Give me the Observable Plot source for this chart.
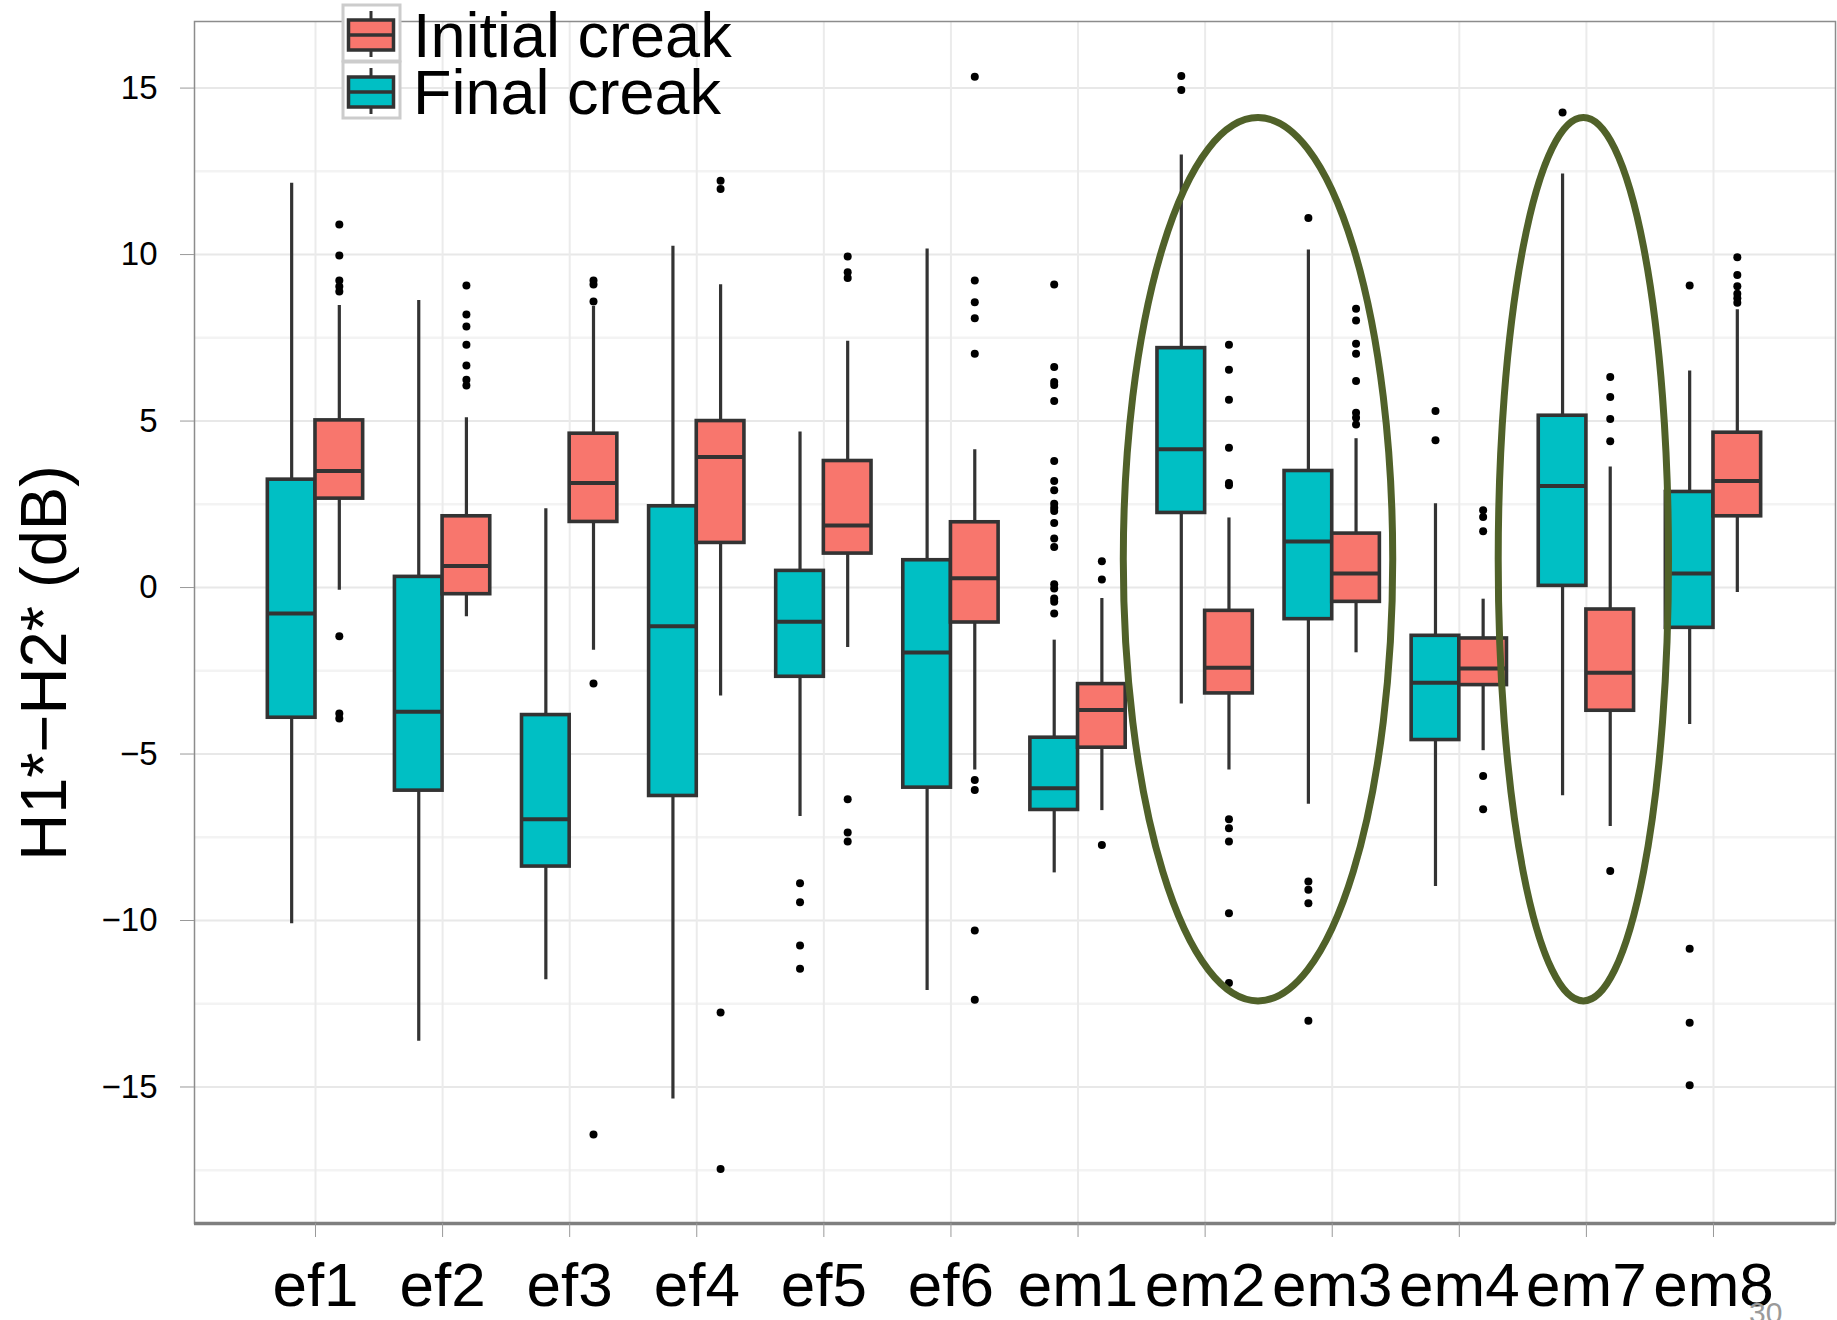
<!DOCTYPE html>
<html>
<head>
<meta charset="utf-8">
<script src="https://cdn.jsdelivr.net/npm/d3@7"></script>
<script src="https://cdn.jsdelivr.net/npm/@observablehq/plot@0.6"></script>
<style>
  html, body { margin: 0; padding: 0; background: #fff; overflow: hidden; }
  #chart svg { display: block; }
</style>
</head>
<body>
<div id="chart"></div>
<script>
// ---------- data ----------
const categories = ["ef1","ef2","ef3","ef4","ef5","ef6","em1","em2","em3","em4","em7","em8"];
const seriesNames = ["Initial creak", "Final creak"];
const seriesColors = ["#F8766D", "#00BFC4"];
const yTicks = [-15, -10, -5, 0, 5, 10, 15];
const yMinorTicks = [-17.5, -12.5, -7.5, -2.5, 2.5, 7.5, 12.5];

// Final creak (teal)
const finalLow  = [-10.1, -13.63, -11.78, -15.36, -6.88, -12.1, -8.57, -3.5, -6.51, -8.98, -6.25, -4.11];
const finalQ1   = [-3.91, -6.1, -8.38, -6.26, -2.68, -6.01, -6.68, 2.24, -0.95, -4.58, 0.05, -1.21];
const finalMed  = [-0.78, -3.73, -6.96, -1.16, -1.03, -1.95, -6.03, 4.15, 1.38, -2.86, 3.05, 0.42];
const finalQ3   = [3.24, 0.32, -3.83, 2.44, 0.5, 0.82, -4.51, 7.19, 3.5, -1.45, 5.16, 2.87];
const finalHigh = [12.14, 8.62, 2.37, 10.25, 4.67, 10.17, -1.58, 12.99, 10.14, 2.52, 12.42, 6.5];
const finalOut = [
  [], [], [], [],
  [-8.88, -9.45, -10.75, -11.45],
  [],
  [9.1, 6.62, 6.17, 6.08, 5.6, 3.8, 3.2, 2.92, 2.52, 2.4, 2.3, 1.94, 1.47, 1.22, 0.1, -0.03, -0.33, -0.43, -0.78],
  [15.36, 14.94],
  [11.1, -8.83, -9.08, -9.48, -13.01],
  [5.3, 4.42],
  [14.27],
  [9.07, -10.85, -13.07, -14.95]
];

// Initial creak (red)
const initLow  = [-0.08, -0.88, -1.88, -3.26, -1.8, -5.48, -6.7, -5.48, -1.96, -4.9, -7.18, -0.15];
const initQ1   = [2.67, -0.2, 1.97, 1.34, 1.02, -1.05, -4.81, -3.18, -0.43, -2.93, -3.7, 2.14];
const initMed  = [3.5, 0.65, 3.14, 3.92, 1.86, 0.28, -3.68, -2.41, 0.42, -2.43, -2.56, 3.2];
const initQ3   = [5.02, 2.14, 4.62, 5.0, 3.8, 1.96, -2.9, -0.7, 1.62, -1.53, -0.66, 4.65];
const initHigh = [8.47, 5.1, 8.44, 9.09, 7.4, 4.14, -0.33, 2.09, 4.47, -0.35, 3.62, 8.34];
const initOut = [
  [10.9, 9.97, 9.22, 9.04, 8.89, -1.46, -3.78, -3.93],
  [9.07, 8.2, 7.84, 7.29, 6.67, 6.24, 6.07],
  [9.22, 9.1, 8.59, -2.88, -16.43],
  [12.22, 11.97, -12.76, -17.46],
  [9.94, 9.47, 9.3, -6.36, -7.36, -7.63],
  [15.34, 9.22, 8.57, 8.09, 7.02, -5.78, -6.08, -10.3, -12.38],
  [0.79, 0.24, -7.73],
  [7.29, 6.54, 5.64, 4.2, 3.14, 3.07, -6.96, -7.23, -7.63, -9.78, -11.88],
  [8.37, 8.02, 7.32, 7.02, 6.2, 5.25, 5.1, 4.9],
  [2.32, 2.12, 1.69, -5.66, -6.66],
  [6.32, 5.72, 5.06, 4.39, -8.51],
  [9.92, 9.39, 9.05, 8.82, 8.69, 8.55]
];

// highlighted groups (annotation ellipses): centre in category units, half-width, vertical extent
const ellipseCenters = [7.42, 9.98];
const ellipseHalfWidths = [1.06, 0.67];
const ellipseTop = 14.1;
const ellipseBottom = -12.43;

// ---------- build tables ----------
const half = 0.1875;
const rows = [];
const outRows = [];
categories.forEach((c, i) => {
  rows.push({cat: c, series: "Final creak", pos: i - half, low: finalLow[i], q1: finalQ1[i], med: finalMed[i], q3: finalQ3[i], high: finalHigh[i]});
  rows.push({cat: c, series: "Initial creak", pos: i + half, low: initLow[i], q1: initQ1[i], med: initMed[i], q3: initQ3[i], high: initHigh[i]});
  finalOut[i].forEach(v => outRows.push({pos: i - half, v}));
  initOut[i].forEach(v => outRows.push({pos: i + half, v}));
});

const font = "'Liberation Sans', Arial, Helvetica, sans-serif";
const yDomain = [-19.1, 17.0];

const plot = Plot.plot({
  width: 1837,
  height: 1320,
  marginLeft: 194,
  marginRight: 2,
  marginTop: 21,
  marginBottom: 97,
  style: {fontFamily: font, background: "#fff", color: "#000"},
  x: {type: "linear", domain: [-0.952, 11.96]},
  y: {domain: yDomain},
  color: {domain: seriesNames, range: seriesColors},
  marks: [
    Plot.gridY(yMinorTicks, {stroke: "#f3f3f3", strokeOpacity: 1, strokeWidth: 2.5}),
    Plot.gridY(yTicks, {stroke: "#e8e8e8", strokeOpacity: 1, strokeWidth: 2}),
    Plot.gridX(d3.range(categories.length), {stroke: "#ebebeb", strokeOpacity: 1, strokeWidth: 2}),
    Plot.frame({stroke: "#8c8c8c", strokeWidth: 1.5}),
    Plot.ruleY([yDomain[0]], {stroke: "#7f7f7f", strokeWidth: 3.5}),
    Plot.ruleX(rows, {x: "pos", y1: "low", y2: "high", stroke: "#333333", strokeWidth: 3.2}),
    Plot.rect(rows, {x1: d => d.pos - half, x2: d => d.pos + half, y1: "q1", y2: "q3", fill: "series", stroke: "#333333", strokeWidth: 3.6}),
    Plot.ruleY(rows, {y: "med", x1: d => d.pos - half, x2: d => d.pos + half, stroke: "#333333", strokeWidth: 4}),
    Plot.dot(outRows, {x: "pos", y: "v", r: 4, fill: "#000", stroke: "none"}),
    Plot.axisY(yTicks, {tickSize: 14, tickPadding: 23, fontSize: 33, stroke: "#999", fill: "#000", label: null}),
    Plot.axisX(d3.range(categories.length), {tickSize: 14, tickPadding: 24, fontSize: 62, stroke: "#999", fill: "#000",
      tickFormat: i => categories[i], label: null})
  ]
});

document.getElementById("chart").appendChild(plot);

const svg = d3.select(plot);
const xs = plot.scale("x");
const ys = plot.scale("y");

// annotation ellipses
const eg = svg.append("g").attr("fill", "none").attr("stroke", "#506129").attr("stroke-width", 7);
ellipseCenters.forEach((c, k) => {
  const cx = xs.apply(c);
  const rx = xs.apply(c + ellipseHalfWidths[k]) - cx;
  const yt = ys.apply(ellipseTop), yb = ys.apply(ellipseBottom);
  eg.append("ellipse").attr("cx", cx).attr("cy", (yt + yb) / 2).attr("rx", rx).attr("ry", (yb - yt) / 2);
});

// y axis title
svg.append("text")
  .attr("transform", "translate(66,663) rotate(-90)")
  .attr("text-anchor", "middle")
  .attr("font-size", 65)
  .attr("font-family", font)
  .attr("fill", "#000")
  .text("H1*\u2212H2* (dB)");

// legend
const lg = svg.append("g");
const legendKeys = [
  {name: seriesNames[0], color: seriesColors[0], top: 5},
  {name: seriesNames[1], color: seriesColors[1], top: 62}
];
legendKeys.forEach(k => {
  lg.append("rect").attr("x", 343).attr("y", k.top).attr("width", 57).attr("height", 56)
    .attr("fill", "#fff").attr("stroke", "#cccccc").attr("stroke-width", 3);
  lg.append("line").attr("x1", 371).attr("x2", 371).attr("y1", k.top + 6).attr("y2", k.top + 52)
    .attr("stroke", "#333").attr("stroke-width", 3);
  lg.append("rect").attr("x", 348.5).attr("y", k.top + 15).attr("width", 45).attr("height", 30)
    .attr("fill", k.color).attr("stroke", "#333").attr("stroke-width", 3.5);
  lg.append("line").attr("x1", 348.5).attr("x2", 393.5).attr("y1", k.top + 30).attr("y2", k.top + 30)
    .attr("stroke", "#333").attr("stroke-width", 3.5);
  lg.append("text").attr("x", 413).attr("y", k.top + 52).attr("text-anchor", "start")
    .attr("font-size", 63).attr("font-family", font).attr("fill", "#000").text(k.name);
});

// slide number
svg.append("text").attr("x", 1749).attr("y", 1323).attr("text-anchor", "start").attr("font-size", 30)
  .attr("font-family", font).attr("fill", "#9a9a9a").text("30");
</script>
</body>
</html>
